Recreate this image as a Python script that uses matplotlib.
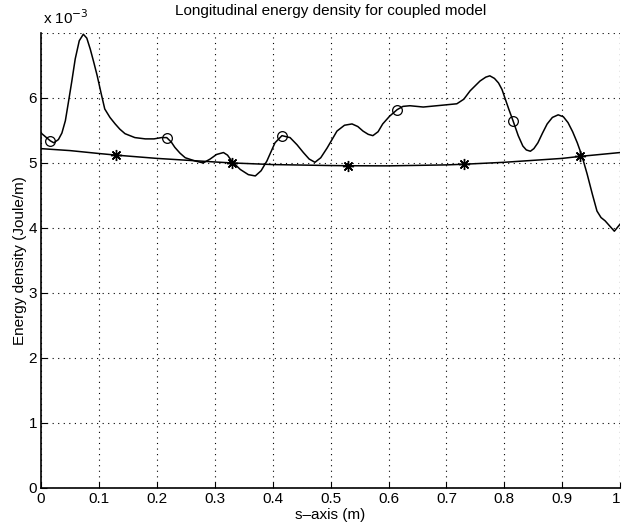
import matplotlib.pyplot as plt

plt.rcParams['font.family'] = ['Liberation Sans', 'DejaVu Sans']

# coupled model, energy density along s (in 1e-3 J/m)
s_coupled = [0.000, 0.008, 0.016, 0.022, 0.030, 0.036, 0.042, 0.047, 0.053, 0.059,
             0.066, 0.073, 0.079, 0.085, 0.091, 0.097, 0.104, 0.110, 0.119, 0.128,
             0.136, 0.145, 0.162, 0.180, 0.195, 0.208, 0.217, 0.225, 0.231, 0.240,
             0.249, 0.266, 0.280, 0.292, 0.303, 0.315, 0.322, 0.330, 0.344, 0.358,
             0.370, 0.380, 0.390, 0.404, 0.416, 0.430, 0.442, 0.453, 0.463, 0.473,
             0.483, 0.494, 0.511, 0.524, 0.537, 0.547, 0.556, 0.565, 0.573, 0.582,
             0.590, 0.602, 0.615, 0.625, 0.637, 0.660, 0.695, 0.718, 0.730, 0.741,
             0.758, 0.768, 0.775, 0.783, 0.790, 0.796, 0.801, 0.808, 0.815, 0.824,
             0.832, 0.838, 0.845, 0.851, 0.858, 0.866, 0.874, 0.883, 0.893, 0.902,
             0.910, 0.918, 0.926, 0.934, 0.943, 0.952, 0.960, 0.967, 0.974, 0.982,
             0.990, 1.000]
e_coupled = [5.46, 5.40, 5.34, 5.31, 5.36, 5.46, 5.65, 5.92, 6.25, 6.60,
             6.88, 6.98, 6.92, 6.75, 6.55, 6.34, 6.06, 5.83, 5.70, 5.60,
             5.52, 5.45, 5.39, 5.37, 5.37, 5.39, 5.39, 5.32, 5.24, 5.15,
             5.08, 5.03, 5.00, 5.06, 5.13, 5.16, 5.12, 5.02, 4.90, 4.82,
             4.80, 4.88, 5.03, 5.31, 5.42, 5.39, 5.28, 5.16, 5.06, 5.01,
             5.08, 5.23, 5.49, 5.58, 5.60, 5.56, 5.49, 5.44, 5.42, 5.48,
             5.60, 5.72, 5.82, 5.87, 5.88, 5.86, 5.89, 5.91, 5.98, 6.11,
             6.26, 6.32, 6.34, 6.30, 6.23, 6.13, 6.00, 5.82, 5.65, 5.42,
             5.26, 5.20, 5.18, 5.22, 5.31, 5.46, 5.60, 5.70, 5.74, 5.71,
             5.62, 5.48, 5.31, 5.11, 4.83, 4.52, 4.26, 4.16, 4.11, 4.03,
             3.95, 4.06]
s_circ = [0.016, 0.217, 0.416, 0.615, 0.815]
e_circ = [5.34, 5.39, 5.42, 5.82, 5.65]

# smooth reference curve
s_ref = [0.00, 0.05, 0.10, 0.13, 0.20, 0.30, 0.33, 0.40, 0.50, 0.53,
         0.60, 0.70, 0.73, 0.80, 0.90, 0.93, 1.00]
e_ref = [5.22, 5.19, 5.145, 5.12, 5.07, 5.015, 5.00, 4.975, 4.96, 4.957,
         4.955, 4.97, 4.98, 5.01, 5.07, 5.10, 5.16]
s_star = [0.13, 0.33, 0.53, 0.73, 0.93]
e_star = [5.12, 5.00, 4.96, 4.98, 5.10]

xtick_labels = ['0', '0.1', '0.2', '0.3', '0.4', '0.5', '0.6', '0.7', '0.8', '0.9', '1']

fig = plt.figure(figsize=(6.22, 5.31), dpi=100)
ax = fig.add_axes([0.066, 0.081, 0.931, 0.857])

ax.plot(s_coupled, e_coupled, color='black', lw=1.1)
ax.plot(s_circ, e_circ, 'o', mfc='none', mec='black', ms=7, mew=0.9)
ax.plot(s_ref, e_ref, color='black', lw=1.1)
ax.plot(s_star, e_star, linestyle='none', marker=(8, 2, 0), color='black', ms=8, mew=1.0)

grid_style = dict(linestyle=(0, (1, 4)), color='black', lw=0.8)
ax.set_xlim(0, 1)
ax.set_ylim(0, 7)
ax.set_xticks([i / 10 for i in range(11)])
ax.set_xticklabels(xtick_labels)
ax.set_yticks(range(0, 7))
ax.grid(True, **grid_style)
ax.axhline(7, **grid_style)
ax.axvline(1, **grid_style)
ax.spines['top'].set_visible(False)
ax.spines['right'].set_visible(False)
ax.spines['left'].set_linewidth(1.2)
ax.spines['bottom'].set_linewidth(1.2)
ax.tick_params(direction='in', length=4, labelsize=11, pad=3)
ax.get_xticklabels()[-1].set_horizontalalignment('right')

ax.text(0.003, 1.012, 'x 10$^{-3}$', transform=ax.transAxes, fontsize=11, va='bottom', ha='left')
ax.set_title('Longitudinal energy density for coupled model', fontsize=11, pad=13)
ax.set_xlabel('s\u2013axis (m)', fontsize=11, labelpad=1)
ax.set_ylabel('Energy density (Joule/m)', fontsize=11, labelpad=1)

fig.savefig('out.png', dpi=100)
